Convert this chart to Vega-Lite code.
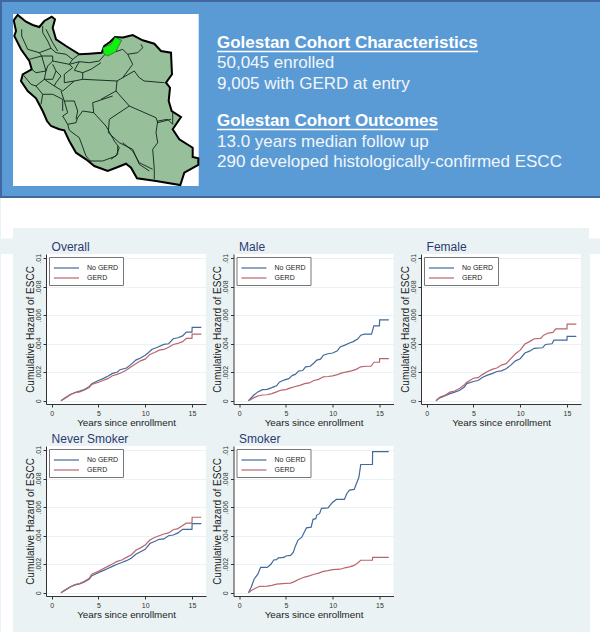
{
"$schema":"https://vega.github.io/schema/vega-lite/v6.json",
"padding":0,"background":"#eaf2f3","autosize":{"type":"pad"},
"spacing":0,
"config":{"view":{"stroke":null},"font":"Liberation Sans","concat":{"spacing":0}},
"datasets":{
"curves":[
{"panel":"Overall","group":"No GERD","year":1,"hazard":0},{"panel":"Overall","group":"No GERD","year":1.5,"hazard":0.00022},{"panel":"Overall","group":"No GERD","year":2,"hazard":0.00044},{"panel":"Overall","group":"No GERD","year":2.5,"hazard":0.00058},{"panel":"Overall","group":"No GERD","year":3,"hazard":0.00067},{"panel":"Overall","group":"No GERD","year":3.5,"hazard":0.00078},{"panel":"Overall","group":"No GERD","year":4,"hazard":0.00098},{"panel":"Overall","group":"No GERD","year":4.3,"hazard":0.0012},{"panel":"Overall","group":"No GERD","year":5,"hazard":0.00142},{"panel":"Overall","group":"No GERD","year":5.5,"hazard":0.00155},{"panel":"Overall","group":"No GERD","year":6,"hazard":0.00172},{"panel":"Overall","group":"No GERD","year":6.5,"hazard":0.00192},{"panel":"Overall","group":"No GERD","year":7,"hazard":0.002},{"panel":"Overall","group":"No GERD","year":7.3,"hazard":0.00218},{"panel":"Overall","group":"No GERD","year":8,"hazard":0.0023},{"panel":"Overall","group":"No GERD","year":8.5,"hazard":0.00255},{"panel":"Overall","group":"No GERD","year":9,"hazard":0.00285},{"panel":"Overall","group":"No GERD","year":9.5,"hazard":0.003},{"panel":"Overall","group":"No GERD","year":10,"hazard":0.0032},{"panel":"Overall","group":"No GERD","year":10.3,"hazard":0.00335},{"panel":"Overall","group":"No GERD","year":10.7,"hazard":0.0036},{"panel":"Overall","group":"No GERD","year":11.3,"hazard":0.00375},{"panel":"Overall","group":"No GERD","year":12,"hazard":0.00395},{"panel":"Overall","group":"No GERD","year":12.5,"hazard":0.004},{"panel":"Overall","group":"No GERD","year":13,"hazard":0.00435},{"panel":"Overall","group":"No GERD","year":13.5,"hazard":0.00442},{"panel":"Overall","group":"No GERD","year":14,"hazard":0.00455},{"panel":"Overall","group":"No GERD","year":14.4,"hazard":0.00482},{"panel":"Overall","group":"No GERD","year":15,"hazard":0.00482},{"panel":"Overall","group":"No GERD","year":15.02,"hazard":0.00515},{"panel":"Overall","group":"No GERD","year":16,"hazard":0.00515},
{"panel":"Overall","group":"GERD","year":1,"hazard":0},{"panel":"Overall","group":"GERD","year":1.5,"hazard":0.0002},{"panel":"Overall","group":"GERD","year":2,"hazard":0.00042},{"panel":"Overall","group":"GERD","year":2.5,"hazard":0.00057},{"panel":"Overall","group":"GERD","year":3,"hazard":0.00062},{"panel":"Overall","group":"GERD","year":3.5,"hazard":0.00075},{"panel":"Overall","group":"GERD","year":4,"hazard":0.00092},{"panel":"Overall","group":"GERD","year":4.3,"hazard":0.00115},{"panel":"Overall","group":"GERD","year":5,"hazard":0.0013},{"panel":"Overall","group":"GERD","year":5.5,"hazard":0.00142},{"panel":"Overall","group":"GERD","year":6,"hazard":0.00155},{"panel":"Overall","group":"GERD","year":6.5,"hazard":0.00175},{"panel":"Overall","group":"GERD","year":7,"hazard":0.00185},{"panel":"Overall","group":"GERD","year":7.5,"hazard":0.00198},{"panel":"Overall","group":"GERD","year":8,"hazard":0.00215},{"panel":"Overall","group":"GERD","year":8.5,"hazard":0.00238},{"panel":"Overall","group":"GERD","year":9,"hazard":0.0026},{"panel":"Overall","group":"GERD","year":9.5,"hazard":0.0028},{"panel":"Overall","group":"GERD","year":10,"hazard":0.00292},{"panel":"Overall","group":"GERD","year":10.5,"hazard":0.00325},{"panel":"Overall","group":"GERD","year":11,"hazard":0.00338},{"panel":"Overall","group":"GERD","year":11.5,"hazard":0.00355},{"panel":"Overall","group":"GERD","year":12,"hazard":0.0036},{"panel":"Overall","group":"GERD","year":12.5,"hazard":0.00375},{"panel":"Overall","group":"GERD","year":13,"hazard":0.00395},{"panel":"Overall","group":"GERD","year":13.5,"hazard":0.00402},{"panel":"Overall","group":"GERD","year":14,"hazard":0.00415},{"panel":"Overall","group":"GERD","year":14.4,"hazard":0.00438},{"panel":"Overall","group":"GERD","year":15,"hazard":0.00438},{"panel":"Overall","group":"GERD","year":15.02,"hazard":0.00468},{"panel":"Overall","group":"GERD","year":16,"hazard":0.00468},
{"panel":"Male","group":"No GERD","year":1,"hazard":0},{"panel":"Male","group":"No GERD","year":1.5,"hazard":0.00035},{"panel":"Male","group":"No GERD","year":2,"hazard":0.00062},{"panel":"Male","group":"No GERD","year":2.5,"hazard":0.00078},{"panel":"Male","group":"No GERD","year":3,"hazard":0.0008},{"panel":"Male","group":"No GERD","year":3.5,"hazard":0.00092},{"panel":"Male","group":"No GERD","year":4,"hazard":0.00105},{"panel":"Male","group":"No GERD","year":4.3,"hazard":0.0013},{"panel":"Male","group":"No GERD","year":4.8,"hazard":0.00145},{"panel":"Male","group":"No GERD","year":5.3,"hazard":0.00155},{"panel":"Male","group":"No GERD","year":5.7,"hazard":0.00178},{"panel":"Male","group":"No GERD","year":6,"hazard":0.00185},{"panel":"Male","group":"No GERD","year":6.4,"hazard":0.0021},{"panel":"Male","group":"No GERD","year":6.8,"hazard":0.00212},{"panel":"Male","group":"No GERD","year":7.1,"hazard":0.00238},{"panel":"Male","group":"No GERD","year":7.6,"hazard":0.00242},{"panel":"Male","group":"No GERD","year":8,"hazard":0.00265},{"panel":"Male","group":"No GERD","year":8.3,"hazard":0.00285},{"panel":"Male","group":"No GERD","year":8.7,"hazard":0.00292},{"panel":"Male","group":"No GERD","year":9,"hazard":0.0032},{"panel":"Male","group":"No GERD","year":9.5,"hazard":0.0033},{"panel":"Male","group":"No GERD","year":10,"hazard":0.00335},{"panel":"Male","group":"No GERD","year":10.5,"hazard":0.0035},{"panel":"Male","group":"No GERD","year":10.8,"hazard":0.00378},{"panel":"Male","group":"No GERD","year":11.3,"hazard":0.0039},{"panel":"Male","group":"No GERD","year":11.8,"hazard":0.00405},{"panel":"Male","group":"No GERD","year":12.2,"hazard":0.00415},{"panel":"Male","group":"No GERD","year":12.7,"hazard":0.00435},{"panel":"Male","group":"No GERD","year":13,"hazard":0.0046},{"panel":"Male","group":"No GERD","year":13.4,"hazard":0.00468},{"panel":"Male","group":"No GERD","year":14.15,"hazard":0.00468},{"panel":"Male","group":"No GERD","year":14.4,"hazard":0.00525},{"panel":"Male","group":"No GERD","year":15,"hazard":0.00525},{"panel":"Male","group":"No GERD","year":15.02,"hazard":0.00568},{"panel":"Male","group":"No GERD","year":16,"hazard":0.00568},
{"panel":"Male","group":"GERD","year":1,"hazard":0},{"panel":"Male","group":"GERD","year":1.5,"hazard":0.00018},{"panel":"Male","group":"GERD","year":2,"hazard":0.00033},{"panel":"Male","group":"GERD","year":2.5,"hazard":0.0004},{"panel":"Male","group":"GERD","year":3,"hazard":0.00042},{"panel":"Male","group":"GERD","year":3.5,"hazard":0.0005},{"panel":"Male","group":"GERD","year":4,"hazard":0.00062},{"panel":"Male","group":"GERD","year":4.5,"hazard":0.00075},{"panel":"Male","group":"GERD","year":5,"hazard":0.00078},{"panel":"Male","group":"GERD","year":5.5,"hazard":0.0009},{"panel":"Male","group":"GERD","year":6,"hazard":0.001},{"panel":"Male","group":"GERD","year":6.5,"hazard":0.00108},{"panel":"Male","group":"GERD","year":7,"hazard":0.0012},{"panel":"Male","group":"GERD","year":7.5,"hazard":0.00125},{"panel":"Male","group":"GERD","year":8,"hazard":0.00142},{"panel":"Male","group":"GERD","year":8.5,"hazard":0.0015},{"panel":"Male","group":"GERD","year":9,"hazard":0.00168},{"panel":"Male","group":"GERD","year":9.5,"hazard":0.0017},{"panel":"Male","group":"GERD","year":10,"hazard":0.00175},{"panel":"Male","group":"GERD","year":10.5,"hazard":0.00183},{"panel":"Male","group":"GERD","year":11,"hazard":0.00195},{"panel":"Male","group":"GERD","year":11.5,"hazard":0.00202},{"panel":"Male","group":"GERD","year":12,"hazard":0.0021},{"panel":"Male","group":"GERD","year":12.5,"hazard":0.0022},{"panel":"Male","group":"GERD","year":13,"hazard":0.00238},{"panel":"Male","group":"GERD","year":13.5,"hazard":0.00242},{"panel":"Male","group":"GERD","year":14.1,"hazard":0.00242},{"panel":"Male","group":"GERD","year":14.4,"hazard":0.0027},{"panel":"Male","group":"GERD","year":15,"hazard":0.0027},{"panel":"Male","group":"GERD","year":15.02,"hazard":0.00295},{"panel":"Male","group":"GERD","year":16,"hazard":0.00295},
{"panel":"Female","group":"No GERD","year":1,"hazard":0},{"panel":"Female","group":"No GERD","year":1.4,"hazard":0.0002},{"panel":"Female","group":"No GERD","year":2,"hazard":0.00035},{"panel":"Female","group":"No GERD","year":2.5,"hazard":0.0005},{"panel":"Female","group":"No GERD","year":3,"hazard":0.0006},{"panel":"Female","group":"No GERD","year":3.5,"hazard":0.00072},{"panel":"Female","group":"No GERD","year":4,"hazard":0.00095},{"panel":"Female","group":"No GERD","year":4.3,"hazard":0.0012},{"panel":"Female","group":"No GERD","year":5,"hazard":0.00135},{"panel":"Female","group":"No GERD","year":5.5,"hazard":0.00142},{"panel":"Female","group":"No GERD","year":6,"hazard":0.00165},{"panel":"Female","group":"No GERD","year":6.5,"hazard":0.0018},{"panel":"Female","group":"No GERD","year":7,"hazard":0.0019},{"panel":"Female","group":"No GERD","year":7.5,"hazard":0.00205},{"panel":"Female","group":"No GERD","year":8,"hazard":0.0021},{"panel":"Female","group":"No GERD","year":8.5,"hazard":0.00225},{"panel":"Female","group":"No GERD","year":9,"hazard":0.0025},{"panel":"Female","group":"No GERD","year":9.5,"hazard":0.0028},{"panel":"Female","group":"No GERD","year":10,"hazard":0.00295},{"panel":"Female","group":"No GERD","year":10.5,"hazard":0.00335},{"panel":"Female","group":"No GERD","year":11,"hazard":0.00348},{"panel":"Female","group":"No GERD","year":11.5,"hazard":0.00368},{"panel":"Female","group":"No GERD","year":12.4,"hazard":0.00372},{"panel":"Female","group":"No GERD","year":12.7,"hazard":0.00395},{"panel":"Female","group":"No GERD","year":13.4,"hazard":0.004},{"panel":"Female","group":"No GERD","year":13.6,"hazard":0.00425},{"panel":"Female","group":"No GERD","year":15,"hazard":0.00425},{"panel":"Female","group":"No GERD","year":15.02,"hazard":0.00452},{"panel":"Female","group":"No GERD","year":16,"hazard":0.00452},
{"panel":"Female","group":"GERD","year":1,"hazard":0},{"panel":"Female","group":"GERD","year":1.4,"hazard":0.00025},{"panel":"Female","group":"GERD","year":2,"hazard":0.0004},{"panel":"Female","group":"GERD","year":2.5,"hazard":0.0006},{"panel":"Female","group":"GERD","year":3,"hazard":0.00068},{"panel":"Female","group":"GERD","year":3.5,"hazard":0.00085},{"panel":"Female","group":"GERD","year":4,"hazard":0.0011},{"panel":"Female","group":"GERD","year":4.3,"hazard":0.0013},{"panel":"Female","group":"GERD","year":5,"hazard":0.00158},{"panel":"Female","group":"GERD","year":5.5,"hazard":0.00162},{"panel":"Female","group":"GERD","year":6,"hazard":0.00185},{"panel":"Female","group":"GERD","year":6.5,"hazard":0.00205},{"panel":"Female","group":"GERD","year":7,"hazard":0.0022},{"panel":"Female","group":"GERD","year":7.5,"hazard":0.0023},{"panel":"Female","group":"GERD","year":8,"hazard":0.0025},{"panel":"Female","group":"GERD","year":8.5,"hazard":0.0026},{"panel":"Female","group":"GERD","year":9,"hazard":0.00295},{"panel":"Female","group":"GERD","year":9.5,"hazard":0.0033},{"panel":"Female","group":"GERD","year":10,"hazard":0.00355},{"panel":"Female","group":"GERD","year":10.5,"hazard":0.00398},{"panel":"Female","group":"GERD","year":11,"hazard":0.00415},{"panel":"Female","group":"GERD","year":11.5,"hazard":0.00435},{"panel":"Female","group":"GERD","year":12.2,"hazard":0.00438},{"panel":"Female","group":"GERD","year":12.5,"hazard":0.0046},{"panel":"Female","group":"GERD","year":13,"hazard":0.00475},{"panel":"Female","group":"GERD","year":13.5,"hazard":0.0048},{"panel":"Female","group":"GERD","year":13.8,"hazard":0.00505},{"panel":"Female","group":"GERD","year":15,"hazard":0.00505},{"panel":"Female","group":"GERD","year":15.02,"hazard":0.00538},{"panel":"Female","group":"GERD","year":16,"hazard":0.00538},
{"panel":"Never Smoker","group":"No GERD","year":1,"hazard":0},{"panel":"Never Smoker","group":"No GERD","year":1.5,"hazard":0.0002},{"panel":"Never Smoker","group":"No GERD","year":2,"hazard":0.0004},{"panel":"Never Smoker","group":"No GERD","year":2.5,"hazard":0.00055},{"panel":"Never Smoker","group":"No GERD","year":3,"hazard":0.00062},{"panel":"Never Smoker","group":"No GERD","year":3.5,"hazard":0.00075},{"panel":"Never Smoker","group":"No GERD","year":4,"hazard":0.00095},{"panel":"Never Smoker","group":"No GERD","year":4.3,"hazard":0.0012},{"panel":"Never Smoker","group":"No GERD","year":5,"hazard":0.0014},{"panel":"Never Smoker","group":"No GERD","year":5.5,"hazard":0.00155},{"panel":"Never Smoker","group":"No GERD","year":6,"hazard":0.0017},{"panel":"Never Smoker","group":"No GERD","year":6.5,"hazard":0.00185},{"panel":"Never Smoker","group":"No GERD","year":7,"hazard":0.002},{"panel":"Never Smoker","group":"No GERD","year":7.5,"hazard":0.00212},{"panel":"Never Smoker","group":"No GERD","year":8,"hazard":0.00225},{"panel":"Never Smoker","group":"No GERD","year":8.5,"hazard":0.00242},{"panel":"Never Smoker","group":"No GERD","year":9,"hazard":0.0027},{"panel":"Never Smoker","group":"No GERD","year":9.5,"hazard":0.00288},{"panel":"Never Smoker","group":"No GERD","year":10,"hazard":0.00305},{"panel":"Never Smoker","group":"No GERD","year":10.5,"hazard":0.00345},{"panel":"Never Smoker","group":"No GERD","year":11,"hazard":0.0036},{"panel":"Never Smoker","group":"No GERD","year":11.5,"hazard":0.00375},{"panel":"Never Smoker","group":"No GERD","year":12,"hazard":0.00378},{"panel":"Never Smoker","group":"No GERD","year":12.5,"hazard":0.004},{"panel":"Never Smoker","group":"No GERD","year":13,"hazard":0.00405},{"panel":"Never Smoker","group":"No GERD","year":13.5,"hazard":0.0042},{"panel":"Never Smoker","group":"No GERD","year":14,"hazard":0.00445},{"panel":"Never Smoker","group":"No GERD","year":15,"hazard":0.00445},{"panel":"Never Smoker","group":"No GERD","year":15.02,"hazard":0.00485},{"panel":"Never Smoker","group":"No GERD","year":16,"hazard":0.00485},
{"panel":"Never Smoker","group":"GERD","year":1,"hazard":0},{"panel":"Never Smoker","group":"GERD","year":1.5,"hazard":0.00022},{"panel":"Never Smoker","group":"GERD","year":2,"hazard":0.00042},{"panel":"Never Smoker","group":"GERD","year":2.5,"hazard":0.00058},{"panel":"Never Smoker","group":"GERD","year":3,"hazard":0.00065},{"panel":"Never Smoker","group":"GERD","year":3.5,"hazard":0.0008},{"panel":"Never Smoker","group":"GERD","year":4,"hazard":0.001},{"panel":"Never Smoker","group":"GERD","year":4.3,"hazard":0.0013},{"panel":"Never Smoker","group":"GERD","year":5,"hazard":0.0015},{"panel":"Never Smoker","group":"GERD","year":5.5,"hazard":0.00168},{"panel":"Never Smoker","group":"GERD","year":6,"hazard":0.00185},{"panel":"Never Smoker","group":"GERD","year":6.5,"hazard":0.00202},{"panel":"Never Smoker","group":"GERD","year":7,"hazard":0.0022},{"panel":"Never Smoker","group":"GERD","year":7.5,"hazard":0.0023},{"panel":"Never Smoker","group":"GERD","year":8,"hazard":0.00248},{"panel":"Never Smoker","group":"GERD","year":8.5,"hazard":0.00265},{"panel":"Never Smoker","group":"GERD","year":9,"hazard":0.00298},{"panel":"Never Smoker","group":"GERD","year":9.5,"hazard":0.00315},{"panel":"Never Smoker","group":"GERD","year":10,"hazard":0.00335},{"panel":"Never Smoker","group":"GERD","year":10.5,"hazard":0.0037},{"panel":"Never Smoker","group":"GERD","year":11,"hazard":0.00388},{"panel":"Never Smoker","group":"GERD","year":11.5,"hazard":0.004},{"panel":"Never Smoker","group":"GERD","year":12,"hazard":0.00412},{"panel":"Never Smoker","group":"GERD","year":12.5,"hazard":0.0042},{"panel":"Never Smoker","group":"GERD","year":13,"hazard":0.00442},{"panel":"Never Smoker","group":"GERD","year":13.5,"hazard":0.0045},{"panel":"Never Smoker","group":"GERD","year":14,"hazard":0.00472},{"panel":"Never Smoker","group":"GERD","year":14.4,"hazard":0.00488},{"panel":"Never Smoker","group":"GERD","year":15,"hazard":0.00488},{"panel":"Never Smoker","group":"GERD","year":15.02,"hazard":0.0053},{"panel":"Never Smoker","group":"GERD","year":16,"hazard":0.0053},
{"panel":"Smoker","group":"No GERD","year":1,"hazard":0},{"panel":"Smoker","group":"No GERD","year":1.3,"hazard":0.0004},{"panel":"Smoker","group":"No GERD","year":1.6,"hazard":0.00095},{"panel":"Smoker","group":"No GERD","year":2,"hazard":0.0013},{"panel":"Smoker","group":"No GERD","year":2.3,"hazard":0.00178},{"panel":"Smoker","group":"No GERD","year":3,"hazard":0.00178},{"panel":"Smoker","group":"No GERD","year":3.4,"hazard":0.002},{"panel":"Smoker","group":"No GERD","year":3.7,"hazard":0.0023},{"panel":"Smoker","group":"No GERD","year":4,"hazard":0.00232},{"panel":"Smoker","group":"No GERD","year":4.2,"hazard":0.00245},{"panel":"Smoker","group":"No GERD","year":4.8,"hazard":0.00248},{"panel":"Smoker","group":"No GERD","year":5,"hazard":0.00258},{"panel":"Smoker","group":"No GERD","year":5.5,"hazard":0.00262},{"panel":"Smoker","group":"No GERD","year":5.8,"hazard":0.00285},{"panel":"Smoker","group":"No GERD","year":6,"hazard":0.00325},{"panel":"Smoker","group":"No GERD","year":6.3,"hazard":0.0037},{"panel":"Smoker","group":"No GERD","year":6.7,"hazard":0.0039},{"panel":"Smoker","group":"No GERD","year":7,"hazard":0.0043},{"panel":"Smoker","group":"No GERD","year":7.2,"hazard":0.00455},{"panel":"Smoker","group":"No GERD","year":7.7,"hazard":0.0046},{"panel":"Smoker","group":"No GERD","year":7.9,"hazard":0.00515},{"panel":"Smoker","group":"No GERD","year":8.2,"hazard":0.0052},{"panel":"Smoker","group":"No GERD","year":8.3,"hazard":0.00545},{"panel":"Smoker","group":"No GERD","year":8.6,"hazard":0.00555},{"panel":"Smoker","group":"No GERD","year":8.8,"hazard":0.00592},{"panel":"Smoker","group":"No GERD","year":9.5,"hazard":0.00595},{"panel":"Smoker","group":"No GERD","year":9.8,"hazard":0.0062},{"panel":"Smoker","group":"No GERD","year":10,"hazard":0.00635},{"panel":"Smoker","group":"No GERD","year":10.4,"hazard":0.00655},{"panel":"Smoker","group":"No GERD","year":11.25,"hazard":0.00655},{"panel":"Smoker","group":"No GERD","year":11.5,"hazard":0.00695},{"panel":"Smoker","group":"No GERD","year":11.8,"hazard":0.0072},{"panel":"Smoker","group":"No GERD","year":12.3,"hazard":0.00725},{"panel":"Smoker","group":"No GERD","year":12.5,"hazard":0.0076},{"panel":"Smoker","group":"No GERD","year":12.8,"hazard":0.0081},{"panel":"Smoker","group":"No GERD","year":13,"hazard":0.009},{"panel":"Smoker","group":"No GERD","year":14.25,"hazard":0.009},{"panel":"Smoker","group":"No GERD","year":14.27,"hazard":0.0099},{"panel":"Smoker","group":"No GERD","year":16,"hazard":0.0099},
{"panel":"Smoker","group":"GERD","year":1,"hazard":0},{"panel":"Smoker","group":"GERD","year":1.3,"hazard":0.00015},{"panel":"Smoker","group":"GERD","year":1.7,"hazard":0.0003},{"panel":"Smoker","group":"GERD","year":2.2,"hazard":0.00045},{"panel":"Smoker","group":"GERD","year":3,"hazard":0.00047},{"panel":"Smoker","group":"GERD","year":3.5,"hazard":0.00052},{"panel":"Smoker","group":"GERD","year":4,"hazard":0.0006},{"panel":"Smoker","group":"GERD","year":5,"hazard":0.00065},{"panel":"Smoker","group":"GERD","year":5.5,"hazard":0.00068},{"panel":"Smoker","group":"GERD","year":5.9,"hazard":0.00078},{"panel":"Smoker","group":"GERD","year":6.4,"hazard":0.00095},{"panel":"Smoker","group":"GERD","year":7,"hazard":0.0011},{"panel":"Smoker","group":"GERD","year":7.5,"hazard":0.00118},{"panel":"Smoker","group":"GERD","year":8,"hazard":0.0013},{"panel":"Smoker","group":"GERD","year":8.5,"hazard":0.00138},{"panel":"Smoker","group":"GERD","year":9,"hazard":0.0015},{"panel":"Smoker","group":"GERD","year":9.5,"hazard":0.00155},{"panel":"Smoker","group":"GERD","year":10,"hazard":0.00162},{"panel":"Smoker","group":"GERD","year":10.8,"hazard":0.00165},{"panel":"Smoker","group":"GERD","year":11.3,"hazard":0.00175},{"panel":"Smoker","group":"GERD","year":11.8,"hazard":0.00182},{"panel":"Smoker","group":"GERD","year":12.3,"hazard":0.00192},{"panel":"Smoker","group":"GERD","year":12.7,"hazard":0.0021},{"panel":"Smoker","group":"GERD","year":13,"hazard":0.00228},{"panel":"Smoker","group":"GERD","year":14.25,"hazard":0.00228},{"panel":"Smoker","group":"GERD","year":14.27,"hazard":0.00248},{"panel":"Smoker","group":"GERD","year":16,"hazard":0.00248}
],
"bannerText":[
{"col":216,"line":42,"label":"Golestan Cohort Characteristics","kind":"head"},
{"col":216,"line":62,"label":"50,045 enrolled","kind":"body"},
{"col":216,"line":83,"label":"9,005 with GERD at entry","kind":"body"},
{"col":216,"line":120,"label":"Golestan Cohort Outcomes","kind":"head"},
{"col":216,"line":141,"label":"13.0 years median follow up","kind":"body"},
{"col":216,"line":161,"label":"290 developed histologically-confirmed ESCC","kind":"body"}
],
"underlines":[{"from":216,"to":477,"line":50.5},{"from":216,"to":437,"line":128.5}],
"mapBase":[{"type":"Feature","geometry":{"type":"Polygon","coordinates":[[[12,13],[197.7,13],[197.7,185],[12,185],[12,13]]]}}],
"mapLand":[{"type":"Feature","geometry":{"type":"Polygon","coordinates":[[[12.7,19.3],[16.7,14],[25,20.7],[31.7,24],[38.3,26],[43.3,20],[50.7,15.7],[54,18.3],[51.7,26.7],[55,38.3],[65,45],[78.3,53.3],[88.3,52.7],[100.7,51.7],[103.3,45],[109,41],[114,36],[122,36.5],[131.7,34],[141.7,39.3],[153.3,42.7],[160,50],[170,51.7],[171,73.3],[165,81.7],[169,86.7],[167.7,100],[170.7,110],[180,116],[171.7,128.3],[178.3,138.3],[191.7,146.7],[191.7,156],[197.3,157.3],[197.3,164],[183.3,171.7],[179.3,184],[155,180],[136,177.3],[130,166.7],[125,162.7],[115,166.7],[106.7,170],[93.3,165],[85,158.3],[75,151.7],[68.3,140],[63.3,129.3],[58.3,128.3],[50,125],[46,120],[41.7,110],[35,97.3],[26.7,90],[20,80],[21.7,73.3],[30.7,68.3],[28.3,60],[20,48.3],[13.3,35],[15,30],[12.7,19.3]]]}}],
"mapGolestan":[{"type":"Feature","geometry":{"type":"Polygon","coordinates":[[[101.7,46.7],[110,43.3],[114,36],[120.7,39.3],[116.7,46.7],[115,50.7],[106.7,55],[102.7,52.7],[101.7,46.7]]]}}],
"mapBorders":[{"type":"Feature","geometry":{"type":"MultiLineString","coordinates":[
[[20.7,28.3],[20.7,35],[26.7,48.3],[38.3,51.7],[50,47.3],[55,51.7],[65,53.3],[69.3,56.7],[71.7,58.3],[78.3,53.3]],
[[41.7,25],[41.7,31.7],[46.7,40],[50,47.3]],
[[45,28.3],[51.7,41.7],[56.7,50]],
[[38.3,51.7],[40.7,55],[28.3,58.3]],
[[40.7,55],[45,70],[35,71.7],[30.7,68.3]],
[[40.7,55],[51.7,55],[51.7,60],[46.7,65],[45,70]],
[[51.7,60],[68.3,63.3],[71.7,58.3]],
[[68.3,63.3],[78.3,60.7],[88.3,61.7],[98.3,60],[104,53.3]],
[[78.3,60.7],[73.3,69.3],[81.7,71.7],[90,68.3],[100,61.7]],
[[81.7,71.7],[81.7,78.3],[116,80]],
[[51.7,63.3],[55,70],[51.7,78.3],[43.3,78.3],[45,70]],
[[43.3,78.3],[35,85],[30,83.3],[21.7,73.3]],
[[35,85],[41.7,93.3],[40,103.3]],
[[43.3,78.3],[53.3,85],[61.7,90],[73.3,80],[63.3,81.7],[63.3,73.3],[71.7,66.7],[68.3,63.3]],
[[55,70],[60,75],[55,81.7],[53.3,85]],
[[41.7,93.3],[51.7,93.3],[61.7,98.3],[61.7,110]],
[[73.3,80],[81.7,78.3]],
[[115,50.7],[121.7,48.3],[126.7,53.3],[136.7,51.7],[141.7,46.7],[140,43.3]],
[[126.7,53.3],[131.7,63.3],[121.7,76.7],[116,80],[115,90],[100,98.3]],
[[121.7,76.7],[133.3,70],[138.3,76.7],[143.3,80],[163.3,81.7]],
[[115,90],[128.3,105],[155,116.7],[156.7,121.7],[170,118.3]],
[[128.3,105],[108.3,118.3],[107.3,131.7],[118.3,141.7],[131.7,148.3],[138.3,163.3],[148.3,170]],
[[111.7,95],[91.7,101.7],[92.7,111.7],[81.7,110],[76.7,116.7]],
[[92.7,111.7],[105,125],[113.3,140],[118.3,146.7],[115,155],[101.7,160],[88.3,160]],
[[60,90],[63.3,100],[73.3,100],[76.7,110],[75,118.3]],
[[63.3,100],[66.7,111.7],[61.7,115],[66.7,123.3],[75,121.7],[76.7,116.7]],
[[66.7,123.3],[68.3,129.3],[78.3,136.7],[85,155],[90,160.7]],
[[156.7,120],[155,131.7],[156.7,141.7],[151.7,148.3],[153.3,168.3],[153.3,178.3]],
[[171.7,111.7],[171.7,123.3]],
[[156.7,120],[166.7,118.3],[171.7,123.3]],
[[121.7,141.7],[131.7,150],[138.3,161.7],[151.7,168.3]],
[[116.7,145],[116.7,153.3],[110,158.3]]
]}}]
},
"vconcat":[
{"width":600,"height":196,"view":{"fill":"#5b9bd5","stroke":"#41679f","strokeWidth":2},
 "layer":[
  {"data":{"name":"mapBase"},"mark":{"type":"geoshape","fill":"white","stroke":null},"projection":{"type":"identity","scale":1,"translate":[0,0]}},
  {"data":{"name":"mapLand"},"mark":{"type":"geoshape","fill":"#97bf9a","stroke":"#000000","strokeWidth":2},"projection":{"type":"identity","scale":1,"translate":[0,0]}},
  {"data":{"name":"mapBorders"},"mark":{"type":"geoshape","filled":false,"fill":null,"stroke":"#10201a","strokeWidth":0.9},"projection":{"type":"identity","scale":1,"translate":[0,0]}},
  {"data":{"name":"mapGolestan"},"mark":{"type":"geoshape","fill":"#0ff00f","stroke":"#0a3a0a","strokeWidth":0.5},"projection":{"type":"identity","scale":1,"translate":[0,0]}},
  {"data":{"name":"bannerText"},"transform":[{"filter":"datum.kind=='head'"}],"mark":{"type":"text","align":"left","baseline":"middle","fontWeight":"bold","fontSize":17,"color":"white"},
   "encoding":{"x":{"field":"col","type":"quantitative","scale":{"domain":[0,600]},"axis":null},"y":{"field":"line","type":"quantitative","scale":{"domain":[196,0]},"axis":null},"text":{"field":"label"}}},
  {"data":{"name":"bannerText"},"transform":[{"filter":"datum.kind=='body'"}],"mark":{"type":"text","align":"left","baseline":"middle","fontSize":17,"color":"#f2f6fb"},
   "encoding":{"x":{"field":"col","type":"quantitative","scale":{"domain":[0,600]},"axis":null},"y":{"field":"line","type":"quantitative","scale":{"domain":[196,0]},"axis":null},"text":{"field":"label"}}},
  {"data":{"name":"underlines"},"mark":{"type":"rule","color":"white","strokeWidth":1.5},
   "encoding":{"x":{"field":"from","type":"quantitative","scale":{"domain":[0,600]},"axis":null},"x2":{"field":"to"},"y":{"field":"line","type":"quantitative","scale":{"domain":[196,0]},"axis":null}}}
 ],
 "resolve":{"scale":{"x":"shared","y":"shared"}}
},
{"width":600,"height":30,"view":{"fill":"white","stroke":null},"data":{"values":[{}]},"mark":{"type":"rect","opacity":0}},
{"spacing":0,"hconcat":[
 {"width":12,"height":10.5,"view":{"fill":"white","stroke":null},"data":{"values":[{}]},"mark":{"type":"rect","opacity":0}},
 {"width":576,"height":10.5,"data":{"values":[{}]},"mark":{"type":"rect","opacity":0}},
 {"width":12,"height":10.5,"view":{"fill":"white","stroke":null},"data":{"values":[{}]},"mark":{"type":"rect","opacity":0}}
]},
{"spacing":0,"hconcat":[
 {"width":12,"height":388.5,"view":{"fill":"white","stroke":null},"data":{"values":[{}]},"mark":{"type":"rect","opacity":0}},
 {"width":12,"height":388.5,"data":{"values":[{}]},"mark":{"type":"rect","opacity":0}},
 {"data":{"name":"curves"},
  "facet":{"field":"panel","type":"nominal","sort":["Overall","Male","Female","Never Smoker","Smoker"],"header":{"title":null,"labelExpr":"''","labelFontSize":1,"labelPadding":0}},
  "columns":3,"spacing":{"row":4,"column":6.5},
  "resolve":{"axis":{"x":"independent","y":"independent"},"legend":{"color":"independent"}},
  "spec":{"width":160,"height":150,"view":{"fill":"white","stroke":null},
   "layer":[
   {"mark":{"type":"line","interpolate":"linear","strokeWidth":1.2},
   "encoding":{
    "x":{"field":"year","type":"quantitative","scale":{"domain":[-0.6,16.5],"nice":false,"zero":false},
     "axis":{"title":"Years since enrollment","values":[0,5,10,15],"format":"d","grid":false,"titleFontSize":9.8,"titleFontWeight":"normal","titleColor":"#222","titlePadding":1,"labelFontSize":7,"labelColor":"#333","tickColor":"#333","domainColor":"#333","tickSize":3,"labelPadding":2}},
    "y":{"field":"hazard","type":"quantitative","scale":{"domain":[-0.00023,0.0103],"nice":false,"zero":false},
     "axis":{"title":"Cumulative Hazard of ESCC","values":[0,0.002,0.004,0.006,0.008,0.01],"labelExpr":"datum.value==0?'0':replace(format(datum.value,'.3~f'),'0.','.')","labelAngle":-90,"labelAlign":"center","labelBaseline":"bottom","labelOverlap":false,"grid":true,"gridColor":"#eaf2f3","titleFontSize":10,"titleFontWeight":"normal","titleColor":"#222","titlePadding":-1,"labelFontSize":7,"labelColor":"#333","tickColor":"#333","domainColor":"#333","tickSize":3,"labelPadding":2}},
    "color":{"field":"group","type":"nominal","scale":{"domain":["No GERD","GERD"],"range":["#41699a","#b8656d"]},
     "legend":{"title":null,"orient":"none","legendX":3,"legendY":3,"fillColor":"white","strokeColor":"#777","padding":4,"symbolType":"M-1,0H3.1","symbolSize":150,"symbolStrokeWidth":1.2,"labelFontSize":7,"labelColor":"#222","labelOffset":20,"rowPadding":0}}
   }},
   {"transform":[{"filter":"datum.year==1 && datum.group=='No GERD'"}],
    "mark":{"type":"text","align":"left","baseline":"middle","fontSize":12,"color":"#2b3a73"},
    "encoding":{
     "x":{"datum":0,"type":"quantitative","axis":{"title":"Years since enrollment","values":[0,5,10,15],"format":"d","grid":false,"titleFontSize":9.8,"titleFontWeight":"normal","titleColor":"#222","titlePadding":1,"labelFontSize":7,"labelColor":"#333","tickColor":"#333","domainColor":"#333","tickSize":3,"labelPadding":2}},
     "y":{"datum":0.0108,"type":"quantitative","axis":{"title":"Cumulative Hazard of ESCC","values":[0,0.002,0.004,0.006,0.008,0.01],"labelExpr":"datum.value==0?'0':replace(format(datum.value,'.3~f'),'0.','.')","labelAngle":-90,"labelAlign":"center","labelBaseline":"bottom","labelOverlap":false,"grid":true,"gridColor":"#eaf2f3","titleFontSize":10,"titleFontWeight":"normal","titleColor":"#222","titlePadding":-1,"labelFontSize":7,"labelColor":"#333","tickColor":"#333","domainColor":"#333","tickSize":3,"labelPadding":2}},
     "text":{"field":"panel"}}}
   ]}
 },
 {"width":9,"height":388.5,"data":{"values":[{}]},"mark":{"type":"rect","opacity":0}},
 {"width":20,"height":388.5,"view":{"fill":"white","stroke":null},"data":{"values":[{}]},"mark":{"type":"rect","opacity":0}}
]},
{"width":600,"height":7,"view":{"fill":"white","stroke":null},"data":{"values":[{}]},"mark":{"type":"rect","opacity":0}}
]
}
